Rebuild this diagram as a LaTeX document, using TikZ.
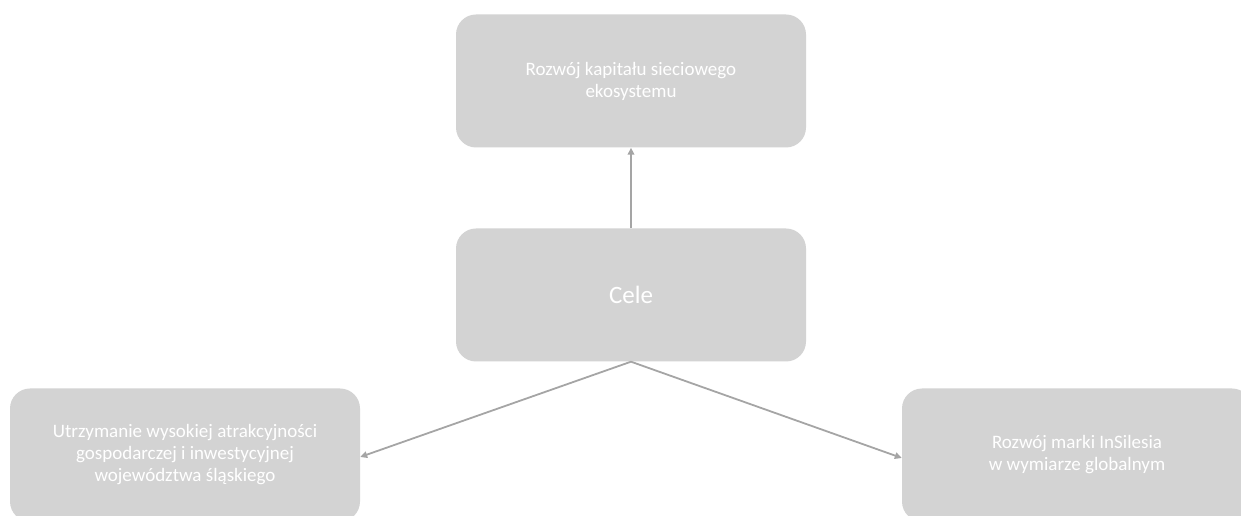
\documentclass[tikz,border=0pt]{standalone}
\usepackage{fontspec}
\setmainfont{Carlito}
\usetikzlibrary{arrows.meta}
\definecolor{boxgray}{HTML}{D3D3D3}
\definecolor{linegray}{HTML}{A5A5A5}
\begin{document}
\begin{tikzpicture}[x = 1pt, y = 1pt,
		celbox/.style = {fill = boxgray, rounded corners = 20pt, minimum width = 350pt, minimum height = 133pt, text = white, align = center, inner sep = 0pt, font = \fontsize{19}{22}\selectfont},
		strzalka/.style = {draw = linegray, line width = 1.8pt, -{Triangle[length = 7pt, width = 6.5pt]}}]
	\clip (0,0) rectangle (1241,516); %ramka
	\node[celbox] (cel1) at (631,435) {Rozwój kapitału sieciowego\\ekosystemu};
	\node[celbox, font = \fontsize{25}{30}\selectfont] (cele) at (631,221) {Cele};
	\node[celbox] (cel2) at (185,61) {Utrzymanie wysokiej atrakcyjności\\gospodarczej i inwestycyjnej\\województwa śląskiego};
	\node[celbox] (cel3) at (1077,61) {Rozwój marki InSilesia\\w wymiarze globalnym};
	\draw[strzalka] (cele.north) -- (cel1.south);
	\draw[strzalka] (cele.south) -- ([yshift = -2pt]cel2.east);
	\draw[strzalka] (cele.south) -- ([yshift = -3pt]cel3.west);
\end{tikzpicture}
\end{document}
